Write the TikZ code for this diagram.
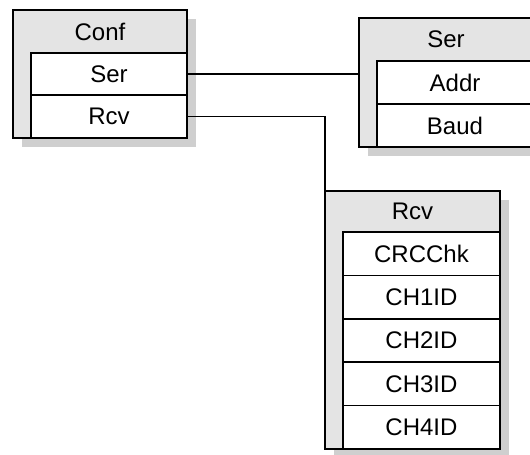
\documentclass[tikz,border=0pt]{standalone}
\usepackage{fontspec}
\setmainfont{Liberation Sans}
\usetikzlibrary{shadows}
\definecolor{hdrgrey}{HTML}{E4E4E4}
\definecolor{shdgrey}{HTML}{CFCFCF}
\begin{document}
\begin{tikzpicture}[x=1pt,y=-1pt,
  every node/.style={inner sep=0pt,outer sep=0pt},
  classbox/.style={draw=black,line width=1.6pt,fill=hdrgrey,
    drop shadow={shadow xshift=9pt,shadow yshift=-9pt,fill=shdgrey,opacity=1}},
  rowbox/.style={draw=black,line width=1.6pt,fill=white,minimum width=156pt,minimum height=43pt},
  lbl/.style={font=\fontsize{24}{28}\selectfont,text=black},
  conn/.style={draw=black,line width=1.6pt}]
\useasboundingbox (0,0) rectangle (530,455);
\clip (0,0) rectangle (530,455);
% Conf
\node[classbox,minimum width=174pt,minimum height=128pt] (conf) at (100,74) {};
\node[lbl] (conftitle) at (100,31.5) {Conf};
\node[rowbox,minimum height=42pt] (confser) at (109,74) {};
\node[lbl] at (confser.center) {Ser};
\node[rowbox] (confrcv) at (109,116.5) {};
\node[lbl] at (confrcv.center) {Rcv};
% Ser
\node[classbox,minimum width=174pt,minimum height=129pt] (ser) at (446,82.5) {};
\node[lbl] (sertitle) at (446,39.5) {Ser};
\node[rowbox] (seraddr) at (455,82.5) {};
\node[lbl] at (seraddr.center) {Addr};
\node[rowbox] (serbaud) at (455,125.5) {};
\node[lbl] at (serbaud.center) {Baud};
% Rcv
\node[classbox,minimum width=175pt,minimum height=258pt] (rcv) at (412.5,320) {};
\node[lbl] (rcvtitle) at (412.5,211.5) {Rcv};
\node[rowbox,minimum width=157pt,minimum height=43.4pt] (rcvcrc) at (421.5,253.7) {};
\node[lbl] at (rcvcrc.center) {CRCChk};
\node[rowbox,minimum width=157pt,minimum height=43.4pt] (rcvch1) at (421.5,297.1) {};
\node[lbl] at (rcvch1.center) {CH1ID};
\node[rowbox,minimum width=157pt,minimum height=43.4pt] (rcvch2) at (421.5,340.5) {};
\node[lbl] at (rcvch2.center) {CH2ID};
\node[rowbox,minimum width=157pt,minimum height=43.4pt] (rcvch3) at (421.5,383.9) {};
\node[lbl] at (rcvch3.center) {CH3ID};
\node[rowbox,minimum width=157pt,minimum height=43.4pt] (rcvch4) at (421.5,427.3) {};
\node[lbl] at (rcvch4.center) {CH4ID};
% connectors
\draw[conn] (confser.east) -- (confser.east -| ser.west);
\draw[conn] (confrcv.east) -| (rcv.north west);
\end{tikzpicture}
\end{document}
